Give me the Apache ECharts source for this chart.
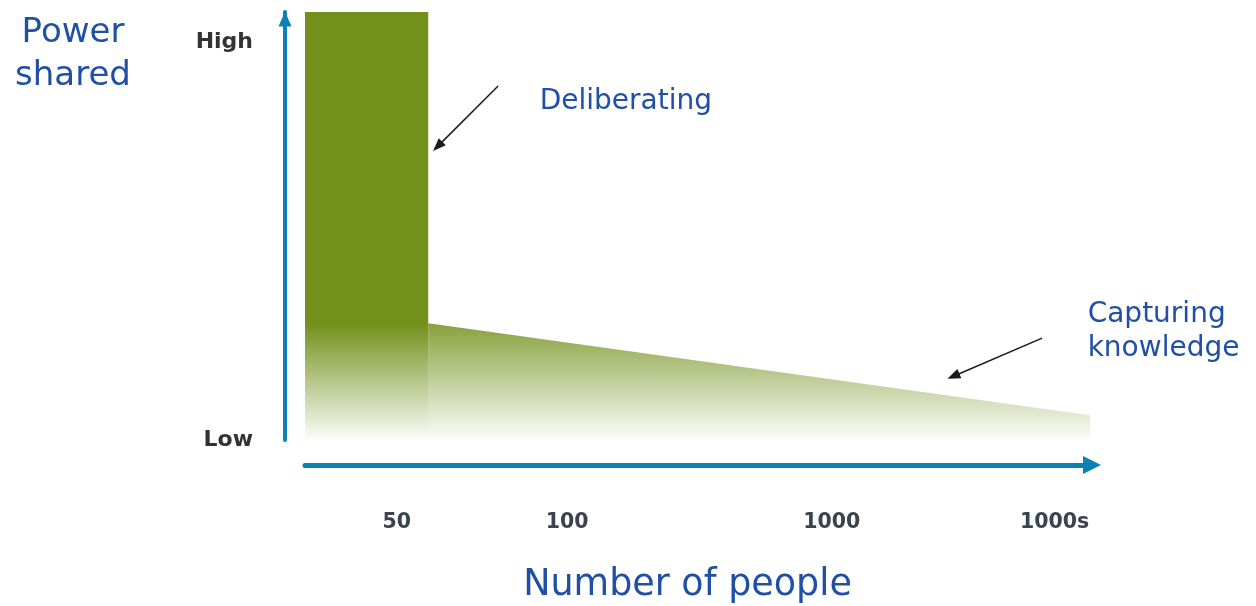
<!DOCTYPE html>
<html>
<head>
<meta charset="utf-8">
<script src="https://cdn.jsdelivr.net/npm/echarts@6/dist/echarts.min.js"></script>
<style>
  html, body { margin: 0; padding: 0; background: #ffffff; }
  #chart { width: 1256px; height: 606px; }
</style>
</head>
<body>
<div id="chart"></div>
<script>
// ---- data (conceptual scale: x 0..100, y 0..100) ----
const deliberatingX = [0, 15.7];
const deliberatingY = [100, 100];
const capturingX = [15.7, 100];
const capturingY = [27.3, 5.8];

const xTickValues = [11.7, 33.4, 67.1, 95.5];
const xTickLabels = ['50', '100', '1000', '1000s'];
const yTickValues = [0, 93];
const yTickLabels = ['Low', 'High'];

const noteTexts = ['Deliberating', 'Capturing\nknowledge'];
const noteX = [29.9, 99.7];
const noteY = [79.0, 25.3];
const arrowFrom = [[24.6, 82.7], [93.9, 23.8]];
const arrowTo = [[16.9, 68.6], [82.6, 14.9]];

// ---- styles ----
const GREEN = '#72901a';
const AXIS_BLUE = '#0a82b4';
const TEXT_BLUE = '#2050a6';
const FONT = '"DejaVu Sans", sans-serif';

function pick(values, labels, v) {
  let best = 0, d = Infinity;
  values.forEach((x, i) => { const dd = Math.abs(x - v); if (dd < d) { d = dd; best = i; } });
  return labels[best];
}

const chart = echarts.init(document.getElementById('chart'), null, { renderer: 'canvas' });

const option = {
  animation: false,
  backgroundColor: '#ffffff',
  title: {
    text: 'Power\nshared',
    left: 68,
    top: 7,
    textAlign: 'center',
    textStyle: { color: TEXT_BLUE, fontFamily: FONT, fontWeight: 'normal', fontSize: 34, lineHeight: 43 }
  },
  grid: { left: 305, right: 166, top: 12, bottom: 166, outerBoundsMode: 'none', containLabel: false },
  xAxis: {
    type: 'value', min: 0, max: 100,
    offset: 25,
    name: 'Number of people',
    nameLocation: 'middle',
    nameGap: 102,
    nameTextStyle: { color: TEXT_BLUE, fontFamily: FONT, fontSize: 36.5, padding: [0, 20, 0, 0] },
    axisLine: { show: true, onZero: false, symbol: ['none', 'triangle'], symbolSize: [18, 18], symbolOffset: [0, 2],
      lineStyle: { color: AXIS_BLUE, width: 5 } },
    axisTick: { show: false },
    splitLine: { show: false },
    axisLabel: {
      customValues: xTickValues,
      formatter: v => pick(xTickValues, xTickLabels, v),
      margin: 47,
      color: '#3a444e', fontFamily: FONT, fontWeight: 'bold', fontSize: 20.5
    }
  },
  yAxis: {
    type: 'value', min: 0, max: 100,
    offset: 20,
    axisLine: { show: true, onZero: false, symbol: ['none', 'triangle'], symbolSize: [13, 15], symbolOffset: [0, -7],
      lineStyle: { color: AXIS_BLUE, width: 4 } },
    axisTick: { show: false },
    splitLine: { show: false },
    axisLabel: {
      customValues: yTickValues,
      formatter: v => pick(yTickValues, yTickLabels, v),
      margin: 32,
      padding: [5, 0, 0, 0],
      color: '#333333', fontFamily: FONT, fontWeight: 'bold', fontSize: 22
    }
  },
  series: [
    {
      name: 'Deliberating',
      type: 'line',
      data: deliberatingX.map((x, i) => [x, deliberatingY[i]]),
      showSymbol: false,
      lineStyle: { width: 0 },
      areaStyle: {
        opacity: 1,
        color: new echarts.graphic.LinearGradient(0, 0, 0, 1, [
          { offset: 0, color: GREEN },
          { offset: 0.727, color: GREEN },
          { offset: 1, color: 'rgba(114,144,26,0.02)' }
        ])
      },
      silent: true
    },
    {
      name: 'Capturing knowledge',
      type: 'line',
      data: capturingX.map((x, i) => [x, capturingY[i]]),
      showSymbol: false,
      lineStyle: { width: 0 },
      areaStyle: {
        opacity: 1,
        color: new echarts.graphic.LinearGradient(0, 0, 0, 1, [
          { offset: 0, color: 'rgba(114,144,26,0.85)' },
          { offset: 1, color: 'rgba(114,144,26,0.02)' }
        ])
      },
      markLine: {
        silent: true,
        symbol: ['none', 'triangle'],
        symbolSize: [10, 13],
        label: { show: false },
        lineStyle: { color: '#1a1a1a', width: 1.5, type: 'solid' },
        data: arrowFrom.map((p, i) => [{ coord: p }, { coord: arrowTo[i] }])
      },
      silent: true
    },
    {
      name: 'notes',
      type: 'scatter',
      symbolSize: 0,
      itemStyle: { opacity: 1 },
      data: noteTexts.map((t, i) => ({ name: t, value: [noteX[i], noteY[i]] })),
      label: {
        show: true,
        position: 'right',
        distance: 0,
        formatter: p => p.name,
        color: TEXT_BLUE, fontFamily: FONT, fontSize: 28, lineHeight: 34, align: 'left', opacity: 1
      },
      silent: true
    }
  ]
};
chart.setOption(option);
</script>
</body>
</html>
